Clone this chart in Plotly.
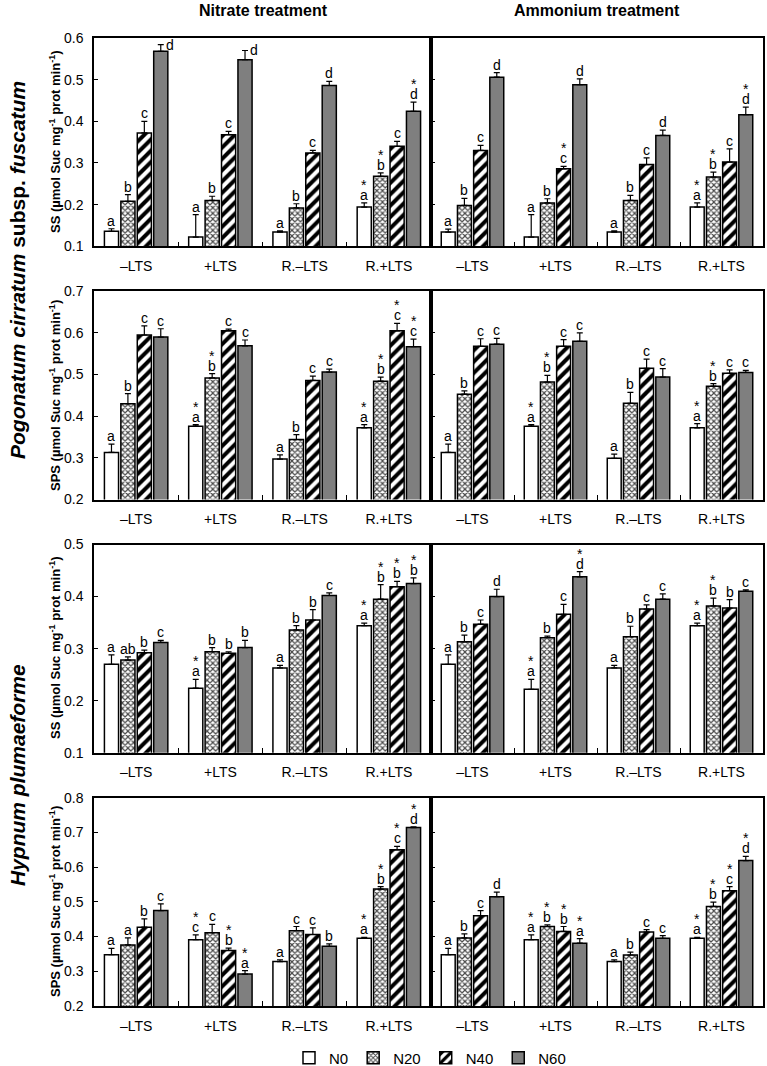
import plotly.graph_objects as go
from plotly.subplots import make_subplots

categories = ["–LTS", "+LTS", "R.–LTS", "R.+LTS"]
series = ["N0", "N20", "N40", "N60"]

# ---- Pogonatum cirratum subsp. fuscatum, SS ----
pc_ss_no3_val = [[0.136, 0.122, 0.134, 0.194], [0.208, 0.210, 0.192, 0.268],
                 [0.372, 0.368, 0.324, 0.340], [0.568, 0.548, 0.486, 0.424]]
pc_ss_no3_err = [[0.006, 0.054, 0.003, 0.010], [0.016, 0.010, 0.010, 0.008],
                 [0.028, 0.008, 0.006, 0.012], [0.016, 0.022, 0.010, 0.022]]
pc_ss_no3_let = [["a", "a", "a", "*a"], ["b", "b", "b", "*b"],
                 ["c", "c", "c", "c"], ["d", "d", "d", "*d"]]

pc_ss_nh4_val = [[0.134, 0.122, 0.134, 0.194], [0.198, 0.204, 0.210, 0.266],
                 [0.330, 0.286, 0.296, 0.302], [0.506, 0.488, 0.366, 0.416]]
pc_ss_nh4_err = [[0.007, 0.054, 0.003, 0.010], [0.017, 0.010, 0.012, 0.012],
                 [0.012, 0.006, 0.016, 0.032], [0.011, 0.014, 0.013, 0.018]]
pc_ss_nh4_let = [["a", "a", "a", "*a"], ["b", "b", "b", "*b"],
                 ["c", "*c", "c", "c"], ["d", "d", "d", "*d"]]

# ---- Pogonatum cirratum subsp. fuscatum, SPS ----
pc_sps_no3_val = [[0.313, 0.376, 0.297, 0.372], [0.430, 0.492, 0.344, 0.484],
                  [0.595, 0.605, 0.486, 0.605], [0.590, 0.569, 0.506, 0.567]]
pc_sps_no3_err = [[0.020, 0.004, 0.010, 0.008], [0.024, 0.010, 0.012, 0.010],
                  [0.022, 0.004, 0.010, 0.018], [0.020, 0.014, 0.007, 0.018]]
pc_sps_no3_let = [["a", "*a", "a", "*a"], ["b", "*b", "b", "*b"],
                  ["c", "c", "c", "*c"], ["c", "c", "c", "*c"]]

pc_sps_nh4_val = [[0.313, 0.376, 0.299, 0.372], [0.453, 0.482, 0.431, 0.472],
                  [0.568, 0.568, 0.515, 0.503], [0.573, 0.580, 0.494, 0.505]]
pc_sps_nh4_err = [[0.020, 0.004, 0.010, 0.010], [0.008, 0.016, 0.026, 0.006],
                  [0.018, 0.016, 0.022, 0.008], [0.014, 0.020, 0.020, 0.005]]
pc_sps_nh4_let = [["a", "*a", "a", "*a"], ["b", "*b", "b", "*b"],
                  ["c", "c", "c", "c"], ["c", "c", "c", "c"]]

# ---- Hypnum plumaeforme, SS ----
hp_ss_no3_val = [[0.270, 0.224, 0.263, 0.344], [0.278, 0.294, 0.336, 0.395],
                 [0.292, 0.291, 0.355, 0.419], [0.312, 0.302, 0.402, 0.425]]
hp_ss_no3_err = [[0.018, 0.017, 0.005, 0.005], [0.006, 0.008, 0.008, 0.028],
                 [0.005, 0.003, 0.020, 0.010], [0.004, 0.014, 0.005, 0.011]]
hp_ss_no3_let = [["a", "*a", "a", "*a"], ["ab", "b", "b", "*b"],
                 ["b", "b", "b", "*b"], ["c", "b", "c", "*b"]]

hp_ss_nh4_val = [[0.270, 0.222, 0.263, 0.344], [0.313, 0.321, 0.323, 0.382],
                 [0.347, 0.366, 0.376, 0.378], [0.400, 0.438, 0.395, 0.410]]
hp_ss_nh4_err = [[0.018, 0.019, 0.005, 0.005], [0.013, 0.003, 0.020, 0.015],
                 [0.008, 0.019, 0.008, 0.016], [0.014, 0.010, 0.010, 0.003]]
hp_ss_nh4_let = [["a", "*a", "a", "*a"], ["b", "b", "b", "*b"],
                 ["c", "c", "c", "b"], ["d", "*d", "c", "c"]]

# ---- Hypnum plumaeforme, SPS ----
hp_sps_no3_val = [[0.348, 0.391, 0.328, 0.395], [0.376, 0.411, 0.417, 0.537],
                  [0.427, 0.360, 0.406, 0.650], [0.475, 0.292, 0.372, 0.714]]
hp_sps_no3_err = [[0.018, 0.014, 0.005, 0.003], [0.020, 0.024, 0.012, 0.007],
                  [0.024, 0.007, 0.019, 0.010], [0.019, 0.010, 0.007, 0.002]]
hp_sps_no3_let = [["a", "*c", "a", "*a"], ["a", "c", "c", "*b"],
                  ["b", "*b", "c", "*c"], ["c", "*a", "b", "*d"]]

hp_sps_nh4_val = [[0.348, 0.391, 0.328, 0.395], [0.396, 0.429, 0.347, 0.487],
                  [0.460, 0.415, 0.413, 0.532], [0.515, 0.381, 0.395, 0.619]]
hp_sps_nh4_err = [[0.018, 0.014, 0.005, 0.003], [0.012, 0.005, 0.008, 0.012],
                  [0.015, 0.014, 0.007, 0.012], [0.013, 0.013, 0.008, 0.012]]
hp_sps_nh4_let = [["a", "*a", "a", "*a"], ["b", "*b", "b", "*b"],
                  ["c", "*b", "c", "*c"], ["d", "*a", "c", "*d"]]

y_ranges = [[0.1, 0.6], [0.2, 0.7], [0.1, 0.5], [0.2, 0.8]]
y_titles = ["SS", "SPS", "SS", "SPS"]

panels = [
    (1, 1, pc_ss_no3_val, pc_ss_no3_err, pc_ss_no3_let),
    (1, 2, pc_ss_nh4_val, pc_ss_nh4_err, pc_ss_nh4_let),
    (2, 1, pc_sps_no3_val, pc_sps_no3_err, pc_sps_no3_let),
    (2, 2, pc_sps_nh4_val, pc_sps_nh4_err, pc_sps_nh4_let),
    (3, 1, hp_ss_no3_val, hp_ss_no3_err, hp_ss_no3_let),
    (3, 2, hp_ss_nh4_val, hp_ss_nh4_err, hp_ss_nh4_let),
    (4, 1, hp_sps_no3_val, hp_sps_no3_err, hp_sps_no3_let),
    (4, 2, hp_sps_nh4_val, hp_sps_nh4_err, hp_sps_nh4_let),
]

W, H = 767, 1066
ML, MR, MT, MB = 94, 4, 38, 60
PW, PH = W - ML - MR, H - MT - MB

FONT = "Liberation Sans, Arial, sans-serif"
BARGAP = 0.22
GROUPGAP = 0.14

styles = [
    dict(color="white"),
    dict(color="white", pattern=dict(shape="x", size=4, solidity=0.5,
                                     fgcolor="#4a4a4a", bgcolor="white", fillmode="replace")),
    dict(color="white", pattern=dict(shape="/", size=8, solidity=0.5,
                                     fgcolor="black", bgcolor="white", fillmode="replace")),
    dict(color="#7f7f7f"),
]

fig = make_subplots(rows=4, cols=2, horizontal_spacing=0,
                    vertical_spacing=45 / PH, column_widths=[337, 332])

for (r, c, vals, errs, lets) in panels:
    ymin, ymax = y_ranges[r - 1]
    span = ymax - ymin
    for i, s in enumerate(series):
        fig.add_trace(go.Bar(
            x=categories, y=vals[i], name=s, legendgroup=s,
            showlegend=(r == 1 and c == 1),
            marker=dict(line=dict(color="black", width=1.5), **styles[i]),
            error_y=dict(type="data", array=errs[i], arrayminus=[0] * 4,
                         symmetric=False, color="black", thickness=1.2, width=3),
        ), row=r, col=c)
        slot = (1 - BARGAP) / len(series)
        off = -(1 - BARGAP) / 2 + (i + 0.5) * slot
        for j in range(len(categories)):
            top = vals[i][j] + errs[i][j]
            lab = lets[i][j]
            star = lab.startswith("*")
            letter = lab.lstrip("*")
            xpos = j + off
            if top > ymax - 0.08 * span:
                fig.add_annotation(x=xpos, y=top, text=letter, showarrow=False,
                                   xanchor="left", yanchor="middle", xshift=3,
                                   font=dict(size=14, family=FONT, color="black"),
                                   row=r, col=c)
                continue
            fig.add_annotation(x=xpos, y=top, text=letter, showarrow=False,
                               xanchor="center", yanchor="bottom", yshift=-2,
                               font=dict(size=14, family=FONT, color="black"),
                               row=r, col=c)
            if star:
                fig.add_annotation(x=xpos, y=top, text="*", showarrow=False,
                                   xanchor="center", yanchor="bottom", yshift=8,
                                   font=dict(size=14, family=FONT, color="black"),
                                   row=r, col=c)

for r in range(1, 5):
    ymin, ymax = y_ranges[r - 1]
    for c in (1, 2):
        fig.update_yaxes(range=[ymin, ymax], dtick=0.1, tick0=0, tickformat=".1f",
                         showline=True, linecolor="black", linewidth=1.5, mirror=True,
                         ticks="inside", ticklen=4, tickcolor="black",
                         showgrid=False, zeroline=False,
                         showticklabels=(c == 1), ticklabelstandoff=6,
                         tickfont=dict(size=14, family=FONT, color="black"),
                         row=r, col=c)
        fig.update_xaxes(type="category", showline=True, linecolor="black", linewidth=1.5,
                         mirror=True, ticks="inside", tickson="boundaries", ticklen=5,
                         tickcolor="black", showgrid=False, ticklabelstandoff=6,
                         tickfont=dict(size=14, family=FONT, color="black"),
                         row=r, col=c)

def px_x(px):
    return (px - ML) / PW

def px_y(py):
    return 1 - (py - MT) / PH

row_centers = [142, 396, 648, 902]
for r in range(4):
    fig.add_annotation(
        xref="paper", yref="paper", x=px_x(55), y=px_y(row_centers[r]),
        text=f"<b>{y_titles[r]} (µmol Suc mg<sup>-1</sup> prot min<sup>-1</sup>)</b>",
        textangle=-90, showarrow=False, xanchor="center", yanchor="middle",
        font=dict(size=13, family=FONT, color="black"))

fig.add_annotation(xref="paper", yref="paper", x=px_x(17), y=px_y(270),
                   text="<b><i>Pogonatum cirratum</i> subsp. <i>fuscatum</i></b>",
                   textangle=-90, showarrow=False, xanchor="center", yanchor="middle",
                   font=dict(size=21, family=FONT, color="black"))
fig.add_annotation(xref="paper", yref="paper", x=px_x(17), y=px_y(775),
                   text="<b><i>Hypnum plumaeforme</i></b>",
                   textangle=-90, showarrow=False, xanchor="center", yanchor="middle",
                   font=dict(size=21, family=FONT, color="black"))

fig.add_annotation(xref="paper", yref="paper", x=px_x(263), y=px_y(11),
                   text="<b>Nitrate treatment</b>", showarrow=False,
                   xanchor="center", yanchor="middle",
                   font=dict(size=16, family=FONT, color="black"))
fig.add_annotation(xref="paper", yref="paper", x=px_x(597), y=px_y(11),
                   text="<b>Ammonium treatment</b>", showarrow=False,
                   xanchor="center", yanchor="middle",
                   font=dict(size=16, family=FONT, color="black"))

fig.update_layout(
    width=W, height=H,
    margin=dict(l=ML, r=MR, t=MT, b=MB, autoexpand=False),
    paper_bgcolor="white", plot_bgcolor="white",
    barmode="group", bargap=BARGAP, bargroupgap=GROUPGAP,
    font=dict(family=FONT, color="black"),
    legend=dict(orientation="h", x=px_x(430), xanchor="center",
                y=px_y(1058), yanchor="middle",
                font=dict(size=15, family=FONT, color="black"),
                itemwidth=30, traceorder="normal", bgcolor="rgba(0,0,0,0)"),
)

fig.write_html("out.html", config={"displayModeBar": False},
               post_script="document.body.style.margin='0';document.body.style.padding='0';")
